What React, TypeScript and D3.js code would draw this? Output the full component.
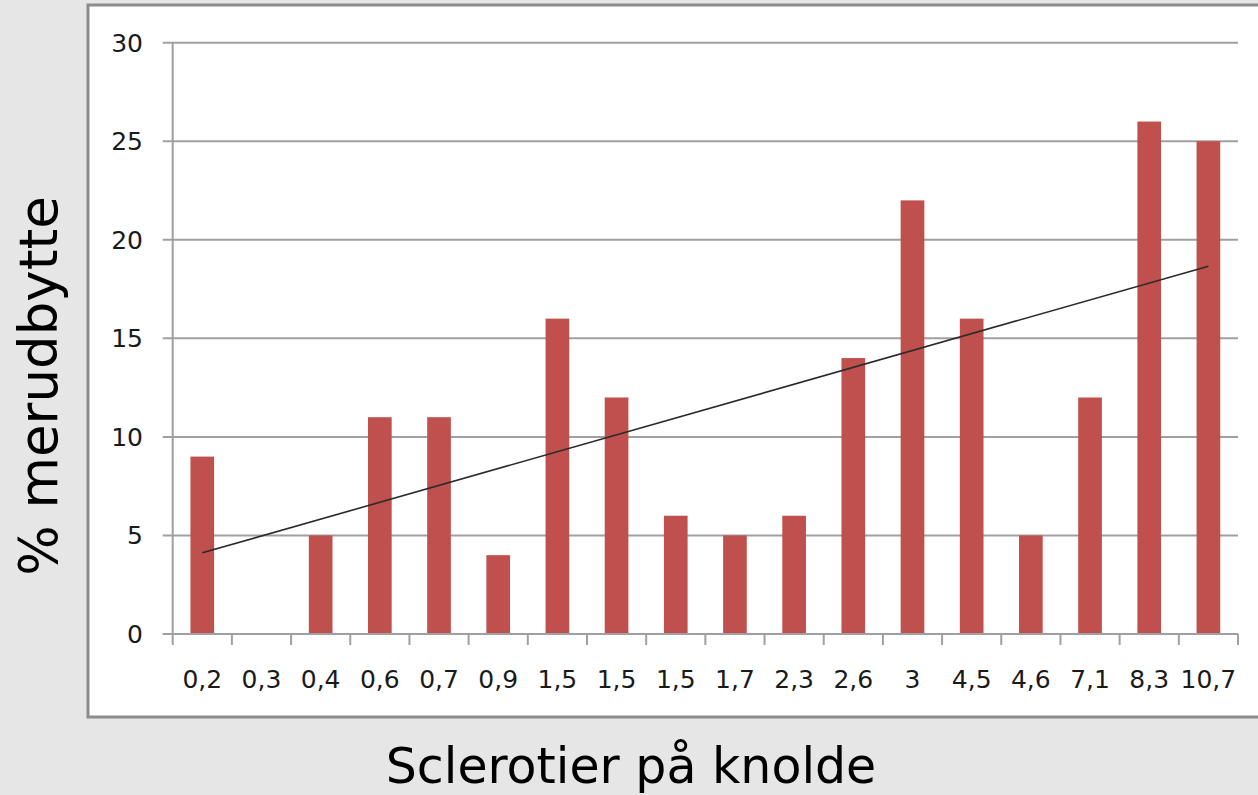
import * as d3 from 'd3';
import { useRef, useEffect } from 'react';

// sclerotia per tuber (x categories) and % extra yield
const categories = ['0,2', '0,3', '0,4', '0,6', '0,7', '0,9', '1,5', '1,5', '1,5', '1,7', '2,3', '2,6', '3', '4,5', '4,6', '7,1', '8,3', '10,7'];
const values = [9, 0, 5, 11, 11, 4, 16, 12, 6, 5, 6, 14, 22, 16, 5, 12, 26, 25];
const yTicks = [0, 5, 10, 15, 20, 25, 30];

const W = 1258;
const H = 795;

const App = () => {
  const svgRef = useRef<SVGSVGElement | null>(null);

  useEffect(() => {
    const svg = d3.select(svgRef.current);
    svg.selectAll('*').remove();

    const left = 172.7;
    const right = 1238;
    const top = 42.7;
    const bottom = 634;
    const font = '"DejaVu Sans", Verdana, sans-serif';

    svg.append('rect').attr('width', W).attr('height', H).attr('fill', '#e6e6e6');

    // white chart box
    svg.append('rect')
      .attr('x', 88)
      .attr('y', 5)
      .attr('width', W - 88 + 20)
      .attr('height', 712)
      .attr('fill', '#ffffff')
      .attr('stroke', '#8c8c8c')
      .attr('stroke-width', 3);

    const y = d3.scaleLinear().domain([0, 30]).range([bottom, top]);
    const idx = d3.range(categories.length).map(String);
    const x = d3.scaleBand()
      .domain(idx)
      .range([left, right])
      .paddingInner(0.6)
      .paddingOuter(0.3);
    const step = x.step();
    const edge = (i: number) => left + i * step;
    const center = (i: number) => x(String(i))! + x.bandwidth() / 2;

    // gridlines + y ticks
    svg.append('g')
      .selectAll('line')
      .data(yTicks)
      .enter()
      .append('line')
      .attr('x1', left - 10)
      .attr('x2', right)
      .attr('y1', (d) => y(d))
      .attr('y2', (d) => y(d))
      .attr('stroke', '#a0a0a0')
      .attr('stroke-width', 2);

    svg.append('g')
      .selectAll('text')
      .data(yTicks)
      .enter()
      .append('text')
      .attr('x', 143)
      .attr('y', (d) => y(d))
      .attr('dy', '0.36em')
      .attr('text-anchor', 'end')
      .attr('font-family', font)
      .attr('font-size', 25)
      .attr('fill', '#1a1a1a')
      .text((d) => d);

    // y axis line
    svg.append('line')
      .attr('x1', left).attr('x2', left)
      .attr('y1', top).attr('y2', bottom + 1)
      .attr('stroke', '#a0a0a0')
      .attr('stroke-width', 2);

    // bars
    svg.append('g')
      .selectAll('rect')
      .data(values)
      .enter()
      .append('rect')
      .attr('x', (_, i) => x(String(i))!)
      .attr('y', (d) => y(d))
      .attr('width', x.bandwidth())
      .attr('height', (d) => bottom - y(d))
      .attr('fill', '#c0504d');

    // x axis + boundary ticks
    svg.append('line')
      .attr('x1', left).attr('x2', right)
      .attr('y1', bottom).attr('y2', bottom)
      .attr('stroke', '#a0a0a0')
      .attr('stroke-width', 2);

    svg.append('g')
      .selectAll('line')
      .data(d3.range(categories.length + 1))
      .enter()
      .append('line')
      .attr('x1', (d) => edge(d))
      .attr('x2', (d) => edge(d))
      .attr('y1', bottom)
      .attr('y2', bottom + 11)
      .attr('stroke', '#a0a0a0')
      .attr('stroke-width', 2);

    svg.append('g')
      .selectAll('text')
      .data(categories)
      .enter()
      .append('text')
      .attr('x', (_, i) => center(i))
      .attr('y', 688)
      .attr('text-anchor', 'middle')
      .attr('font-family', font)
      .attr('font-size', 25)
      .attr('fill', '#1a1a1a')
      .text((d) => d);

    // linear trendline over category index
    const n = values.length;
    const xs = d3.range(1, n + 1);
    const mx = d3.mean(xs)!;
    const my = d3.mean(values)!;
    const slope = d3.sum(xs, (v, i) => (v - mx) * (values[i] - my)) / d3.sum(xs, (v) => (v - mx) ** 2);
    const icpt = my - slope * mx;
    const line = d3.line<number>()
      .x((i) => center(i))
      .y((i) => y(icpt + slope * (i + 1)));
    svg.append('path')
      .attr('d', line([0, n - 1]))
      .attr('fill', 'none')
      .attr('stroke', '#2a2a2a')
      .attr('stroke-width', 1.6);

    // axis titles
    svg.append('text')
      .attr('transform', 'translate(57,386) rotate(-90)')
      .attr('text-anchor', 'middle')
      .attr('font-family', font)
      .attr('font-size', 53)
      .attr('fill', '#000')
      .text('% merudbytte');

    svg.append('text')
      .attr('x', 631)
      .attr('y', 783)
      .attr('text-anchor', 'middle')
      .attr('font-family', font)
      .attr('font-size', 49)
      .attr('fill', '#000')
      .text('Sclerotier på knolde');
  }, []);

  return (
    <div style={{ position: 'fixed', left: 0, top: 0, width: W, height: H, overflow: 'hidden' }}>
      <svg ref={svgRef} width={W} height={H} style={{ display: 'block' }} />
    </div>
  );
};

export default App;
